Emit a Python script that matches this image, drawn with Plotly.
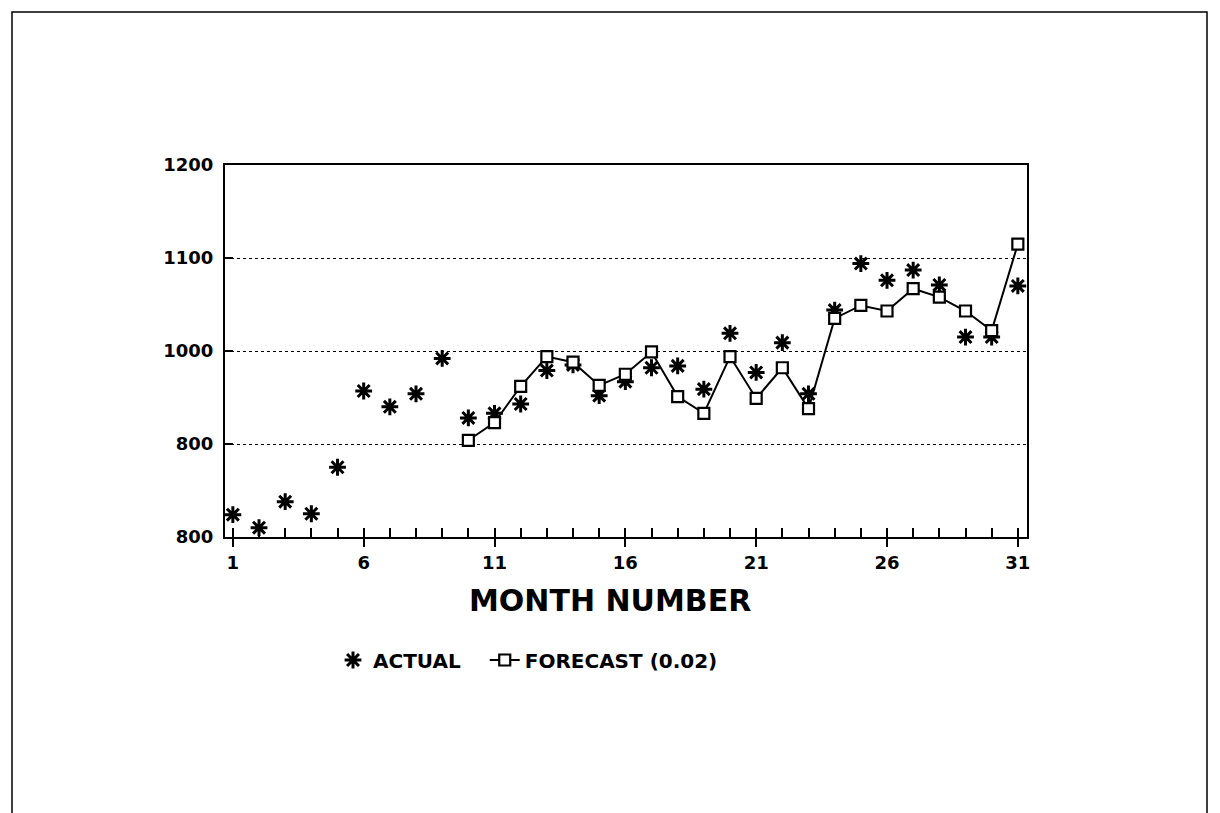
import plotly.graph_objects as go

months = list(range(1, 32))
actual = [824, 810, 838, 825, 875, 957, 940, 954, 992, 928,
          933, 943, 979, 985, 952, 967, 982, 984, 959, 1019,
          977, 1009, 954, 1044, 1094, 1076, 1087, 1071, 1015, 1015, 1070]
forecast_months = list(range(10, 32))
forecast = [904, 923, 962, 994, 988, 963, 975, 999, 951, 933,
            994, 949, 982, 938, 1035, 1049, 1043, 1067, 1058, 1043, 1022, 1115]
x_tick_vals = [1, 6, 11, 16, 21, 26, 31]
y_tick_vals = [800, 900, 1000, 1100, 1200]
y_tick_text = ["800", "800", "1000", "1100", "1200"]

FONT = "DejaVu Sans, Liberation Sans, sans-serif"

L, R, T, B = 217, 201, 157, 284
PW, PH = 1220 - L - R, 813 - T - B


def px_x(p):
    return (p - 8 - L) / PW


def px_y(p):
    return (813 - B - (p - 8)) / PH


fig = go.Figure()
fig.add_trace(go.Scatter(
    x=months, y=actual, mode="markers", name="<b>ACTUAL</b>\u00a0\u00a0\u00a0",
    marker=dict(symbol="asterisk-open", size=14, color="black",
                line=dict(color="black", width=3)),
))
fig.add_trace(go.Scatter(
    x=forecast_months, y=forecast, mode="lines+markers", name="<b>FORECAST (0.02)</b>",
    line=dict(color="black", width=2),
    marker=dict(symbol="square", size=11, color="white",
                line=dict(color="black", width=2.2)),
))

fig.update_layout(
    width=1220, height=813,
    paper_bgcolor="white", plot_bgcolor="white",
    margin=dict(l=L, r=R, t=T, b=B),
    font=dict(family=FONT, color="black", size=18),
    showlegend=True,
    legend=dict(orientation="h", x=px_x(333), xanchor="left", y=px_y(660), yanchor="middle",
                font=dict(size=20, family=FONT), bgcolor="rgba(0,0,0,0)"),
    annotations=[dict(text="<b>MONTH NUMBER</b>", xref="paper", yref="paper",
                      x=px_x(610), y=px_y(600), xanchor="center", yanchor="middle",
                      showarrow=False, font=dict(size=30, family=FONT))],
    shapes=[dict(type="rect", xref="paper", yref="paper",
                 x0=px_x(12), x1=px_x(1207),
                 y0=px_y(840), y1=px_y(12),
                 line=dict(color="black", width=1.5), fillcolor="rgba(0,0,0,0)", layer="below")],
)

fig.update_xaxes(
    range=[0.7, 31.35], tickvals=x_tick_vals,
    ticktext=[f"<b>{v}</b>" for v in x_tick_vals],
    tickfont=dict(size=18, family=FONT),
    ticks="outside", ticklen=8, tickwidth=2, tickcolor="black",
    minor=dict(tick0=1, dtick=1, ticks="inside", ticklen=9, tickwidth=1.5, tickcolor="black", showgrid=False),
    showline=True, linecolor="black", linewidth=2, mirror=True,
    showgrid=False, zeroline=False,
)
fig.update_yaxes(
    range=[800, 1200], tickvals=y_tick_vals,
    ticktext=[f"<b>{t}</b>" for t in y_tick_text],
    tickfont=dict(size=18, family=FONT),
    ticks="inside", ticklen=8, tickwidth=1.5, tickcolor="black",
    showline=True, linecolor="black", linewidth=2, mirror=True,
    showgrid=True, gridcolor="black", gridwidth=1, griddash="dot",
    zeroline=False, ticklabelstandoff=6,
)

fig.write_html("out.html")
